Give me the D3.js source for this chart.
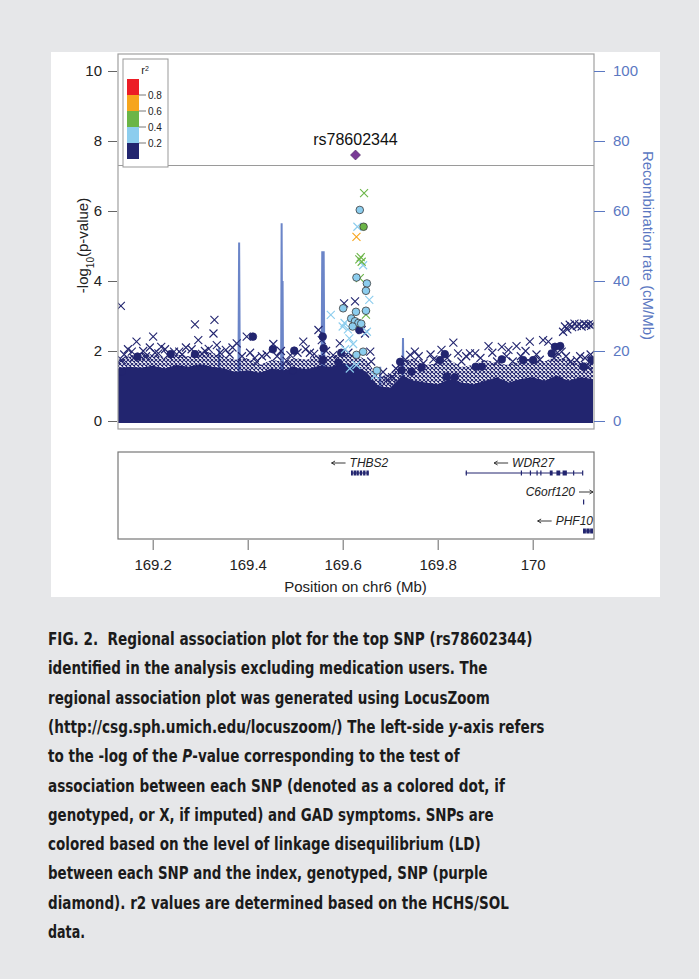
<!DOCTYPE html>
<html lang="en">
<head>
<meta charset="UTF-8">
<title>Regional association plot</title>
<script src="https://d3js.org/d3.v7.min.js"></script>
<style>
  html, body { margin: 0; padding: 0; background: #e6e7e9; }
  svg { display: block; }
  .tick-lbl { font: 15px "Liberation Sans", Arial, sans-serif; fill: #222; }
  .recomb-lbl { font: 15px "Liberation Sans", Arial, sans-serif; fill: #5b78c2; }
  .gene-lbl { font: italic 12px "Liberation Sans", Arial, sans-serif; fill: #222; }
  .caption { font-family: "DejaVu Sans Condensed", "DejaVu Sans", sans-serif; font-weight: bold; font-size: 18px; fill: #1b1b1b; white-space: pre; }
</style>
</head>
<body>
<svg id="fig" width="699" height="979"></svg>
<script>
// ---- data ----
const xTicks = [169.2, 169.4, 169.6, 169.8, 170];
const xTickLabels = ["169.2", "169.4", "169.6", "169.8", "170"];
const yTicks = [0, 2, 4, 6, 8, 10];
const recombTicks = [0, 20, 40, 60, 80, 100];
const sigLine = 7.3;

const ldBreaks = [0.2, 0.4, 0.6, 0.8];
const ldColors = ["#22256f", "#8ccdee", "#6bb547", "#f6a51d", "#ec1d25"];

const topSnp = { name: "rs78602344", pos: 169.627, logp: 7.60 };

// imputed SNPs (drawn as X): [position Mb, -log10 p, r2]
const imputed = [
  [169.133, 3.29, 0.1], [169.135, 1.74, 0.1], [169.156, 1.98, 0.1], [169.166, 2.27, 0.1],
  [169.194, 2.10, 0.1], [169.201, 2.41, 0.1], [169.212, 1.93, 0.1], [169.226, 2.05, 0.1],
  [169.256, 1.98, 0.1], [169.270, 2.10, 0.1], [169.289, 2.76, 0.1], [169.296, 2.31, 0.1],
  [169.310, 2.00, 0.1], [169.328, 2.50, 0.1], [169.330, 2.89, 0.1], [169.335, 2.17, 0.1],
  [169.354, 2.03, 0.1], [169.377, 2.22, 0.1], [169.398, 2.41, 0.1], [169.419, 1.69, 0.1],
  [169.430, 1.85, 0.1], [169.454, 2.20, 0.1], [169.482, 1.72, 0.1], [169.517, 2.27, 0.1],
  [169.531, 1.95, 0.1], [169.549, 2.60, 0.1], [169.556, 2.31, 0.1], [169.594, 2.22, 0.1],
  [169.603, 3.36, 0.1], [169.626, 3.42, 0.1], [169.640, 2.60, 0.1], [169.647, 2.50, 0.1],
  [169.658, 1.98, 0.1], [169.693, 1.17, 0.1], [169.704, 1.25, 0.1], [169.742, 1.89, 0.1],
  [169.752, 1.98, 0.1], [169.791, 1.76, 0.1], [169.808, 2.03, 0.1], [169.833, 2.24, 0.1],
  [169.843, 1.93, 0.1], [169.868, 1.93, 0.1], [169.879, 1.93, 0.1], [169.907, 2.14, 0.1],
  [169.935, 2.12, 0.1], [169.949, 2.03, 0.1], [169.966, 2.14, 0.1], [169.994, 2.27, 0.1],
  [170.022, 2.31, 0.1], [170.033, 2.27, 0.1], [170.061, 1.98, 0.1], [170.093, 1.74, 0.1],
  [170.117, 1.55, 0.1],
  [169.140, 1.90, 0.1], [169.148, 2.05, 0.1], [169.160, 1.80, 0.1], [169.180, 2.00, 0.1],
  [169.186, 1.85, 0.1], [169.205, 1.95, 0.1], [169.218, 2.12, 0.1], [169.232, 1.88, 0.1],
  [169.245, 1.98, 0.1], [169.262, 1.90, 0.1], [169.282, 2.05, 0.1], [169.304, 1.92, 0.1],
  [169.318, 2.06, 0.1], [169.342, 1.95, 0.1], [169.362, 1.90, 0.1], [169.368, 2.10, 0.1],
  [169.388, 1.85, 0.1], [169.405, 1.95, 0.1], [169.415, 1.80, 0.1], [169.440, 1.90, 0.1],
  [169.462, 1.85, 0.1], [169.470, 2.00, 0.1], [169.490, 1.88, 0.1], [169.505, 1.95, 0.1],
  [169.522, 2.05, 0.1], [169.540, 1.92, 0.1], [169.565, 2.00, 0.1], [169.580, 1.88, 0.1],
  [169.612, 1.95, 0.1], [169.660, 1.70, 0.1], [169.685, 1.40, 0.1], [169.712, 1.50, 0.1],
  [169.732, 1.75, 0.1], [169.760, 1.85, 0.1], [169.770, 1.65, 0.1], [169.785, 1.90, 0.1],
  [169.800, 1.70, 0.1], [169.820, 1.80, 0.1], [169.850, 1.70, 0.1], [169.860, 1.85, 0.1],
  [169.890, 1.80, 0.1], [169.915, 1.95, 0.1], [169.925, 1.70, 0.1], [169.945, 1.85, 0.1],
  [169.958, 1.70, 0.1], [169.975, 1.85, 0.1], [169.985, 2.00, 0.1], [170.008, 1.90, 0.1],
  [170.015, 1.75, 0.1], [170.045, 1.80, 0.1], [170.052, 1.95, 0.1], [170.070, 1.85, 0.1],
  [170.080, 1.70, 0.1], [170.100, 1.85, 0.1], [170.110, 1.80, 0.1], [170.122, 1.90, 0.1],
  [170.064, 2.55, 0.1], [170.068, 2.70, 0.1], [170.073, 2.62, 0.1], [170.078, 2.75, 0.1],
  [170.083, 2.68, 0.1], [170.088, 2.78, 0.1], [170.093, 2.72, 0.1], [170.098, 2.76, 0.1],
  [170.103, 2.70, 0.1], [170.108, 2.78, 0.1], [170.113, 2.74, 0.1], [170.118, 2.76, 0.1],
  [170.123, 2.72, 0.1], [170.126, 2.77, 0.1],
  [169.645, 6.51, 0.5], [169.631, 5.55, 0.3], [169.629, 5.26, 0.7], [169.635, 4.62, 0.5],
  [169.640, 4.55, 0.5], [169.638, 4.68, 0.5], [169.643, 4.45, 0.3], [169.636, 4.08, 0.5],
  [169.656, 3.46, 0.3], [169.575, 3.03, 0.3], [169.649, 3.04, 0.5], [169.604, 2.80, 0.3],
  [169.611, 2.62, 0.3], [169.600, 2.70, 0.3], [169.614, 2.36, 0.3], [169.622, 2.20, 0.3],
  [169.605, 2.05, 0.3], [169.629, 1.60, 0.3], [169.615, 1.50, 0.3], [169.668, 1.30, 0.3],
  [169.651, 2.55, 0.3]
];

// genotyped SNPs (drawn as circles): [position Mb, -log10 p, r2]
const genotyped = [
  [169.135, 1.41, 0.1], [169.168, 1.84, 0.1], [169.238, 1.91, 0.1], [169.289, 1.91, 0.1],
  [169.411, 2.41, 0.1], [169.453, 2.05, 0.1], [169.495, 1.44, 0.1], [169.498, 2.01, 0.1],
  [169.558, 2.41, 0.1], [169.560, 2.08, 0.1], [169.558, 1.74, 0.1], [169.591, 1.67, 0.1],
  [169.597, 1.95, 0.1], [169.635, 2.60, 0.1], [169.721, 1.69, 0.1], [169.724, 1.45, 0.1],
  [169.745, 1.41, 0.1], [169.766, 1.53, 0.1], [169.805, 1.74, 0.1], [169.815, 1.91, 0.1],
  [169.819, 1.27, 0.1], [169.836, 1.25, 0.1], [169.880, 1.55, 0.1], [169.893, 1.55, 0.1],
  [169.935, 1.76, 0.1], [169.980, 1.74, 0.1], [170.001, 1.74, 0.1], [170.040, 1.93, 0.1],
  [170.047, 2.12, 0.1], [170.058, 2.14, 0.1], [170.107, 1.55, 0.1], [170.124, 1.74, 0.1],
  [169.636, 6.03, 0.3], [169.644, 5.55, 0.5], [169.629, 4.10, 0.3], [169.651, 3.93, 0.3],
  [169.649, 3.72, 0.3], [169.601, 3.22, 0.3], [169.628, 3.12, 0.3], [169.649, 3.15, 0.3],
  [169.618, 2.93, 0.3], [169.626, 2.85, 0.3], [169.633, 2.80, 0.3], [169.621, 2.70, 0.3],
  [169.639, 2.78, 0.3], [169.629, 1.89, 0.3], [169.643, 1.98, 0.3], [169.672, 1.44, 0.3]
];

// top of the solid mass of low-LD SNPs, and of the looser band of crosses above it
const massEdge = [
  [169.127, 1.50], [169.150, 1.55], [169.175, 1.52], [169.200, 1.58], [169.225, 1.50],
  [169.250, 1.60], [169.275, 1.55], [169.300, 1.62], [169.325, 1.55], [169.350, 1.50],
  [169.375, 1.40], [169.400, 1.45], [169.425, 1.38], [169.450, 1.50], [169.475, 1.45],
  [169.500, 1.52], [169.525, 1.48], [169.550, 1.58], [169.575, 1.55], [169.600, 1.65],
  [169.625, 1.60], [169.650, 1.40], [169.675, 1.00], [169.700, 0.95], [169.725, 1.30],
  [169.750, 1.15], [169.775, 1.10], [169.800, 1.05], [169.825, 1.20], [169.850, 1.10],
  [169.875, 1.05], [169.900, 1.15], [169.925, 1.25], [169.950, 1.10], [169.975, 1.20],
  [170.000, 1.25], [170.025, 1.15], [170.050, 1.30], [170.075, 1.15], [170.100, 1.25],
  [170.127, 1.20]
];
const crossEdge = [
  [169.127, 1.75], [169.150, 1.85], [169.175, 1.95], [169.200, 1.90], [169.225, 1.80],
  [169.250, 1.90], [169.275, 1.85], [169.300, 2.00], [169.325, 1.95], [169.350, 1.85],
  [169.375, 1.75], [169.400, 1.80], [169.425, 1.60], [169.450, 1.75], [169.475, 1.70],
  [169.500, 1.80], [169.525, 1.75], [169.550, 1.90], [169.575, 1.85], [169.600, 1.95],
  [169.625, 1.90], [169.650, 1.75], [169.675, 1.25], [169.700, 1.35], [169.725, 1.70],
  [169.750, 1.80], [169.775, 1.60], [169.800, 1.65], [169.825, 1.75], [169.850, 1.55],
  [169.875, 1.60], [169.900, 1.75], [169.925, 1.65], [169.950, 1.60], [169.975, 1.75],
  [170.000, 1.80], [170.025, 1.70], [170.050, 1.85], [170.075, 1.75], [170.100, 1.70],
  [170.127, 1.65]
];

// recombination rate, cM/Mb
const recomb = [
  [169.127, 0.5], [169.200, 1.0], [169.300, 0.5], [169.338, 0.5], [169.340, 21], [169.342, 0.5],
  [169.380, 0.5], [169.382, 51], [169.384, 0.5], [169.470, 0.5], [169.4715, 56.5], [169.473, 2],
  [169.4735, 40], [169.475, 0.5], [169.555, 0.5], [169.557, 48.5], [169.5585, 10], [169.560, 48.5],
  [169.562, 0.5], [169.677, 0.5], [169.679, 15.5], [169.681, 0.5], [169.725, 0.5], [169.727, 23.7],
  [169.729, 0.5], [169.900, 1.0], [170.127, 2.0]
];

// genes: name, start, end, strand, row, exons
const genes = [
  { name: "THBS2", start: 169.6175, end: 169.655, strand: -1, row: 0,
    exons: [[169.6175, 169.6215], [169.623, 169.628], [169.629, 169.634], [169.636, 169.641], [169.643, 169.648], [169.650, 169.655]] },
  { name: "WDR27", start: 169.859, end: 170.105, strand: -1, row: 0,
    exons: [[169.859, 169.860], [169.975, 169.976], [169.994, 169.995], [170.008, 170.009], [170.016, 170.017],
            [170.036, 170.042], [170.050, 170.058], [170.063, 170.072], [170.085, 170.086], [170.104, 170.105]] },
  { name: "C6orf120", start: 170.106, end: 170.108, strand: 1, row: 1,
    exons: [[170.106, 170.108]] },
  { name: "PHF10", start: 170.106, end: 170.127, strand: -1, row: 2,
    exons: [[170.106, 170.112], [170.113, 170.120], [170.121, 170.127]] }
];

const captionLines = [
  "FIG. 2.  Regional association plot for the top SNP (rs78602344)",
  "identified in the analysis excluding medication users. The",
  "regional association plot was generated using LocusZoom",
  "(http://csg.sph.umich.edu/locuszoom/) The left-side *y*-axis refers",
  "to the -log of the *P*-value corresponding to the test of",
  "association between each SNP (denoted as a colored dot, if",
  "genotyped, or X, if imputed) and GAD symptoms. SNPs are",
  "colored based on the level of linkage disequilibrium (LD)",
  "between each SNP and the index, genotyped, SNP (purple",
  "diamond). r2 values are determined based on the HCHS/SOL",
  "data."
];
const captionFit = [485, 440, 442, 497, 412, 457, 446, 433, 440, 461, 37];

// ---- layout ----
const svg = d3.select("#fig");
const plot = { left: 118, right: 594, top: 54, bottom: 429 };
const genePanel = { top: 452, bottom: 539 };

const x = d3.scaleLinear().domain([169.127, 170.127]).range([118, 593]);
const y = d3.scaleLinear().domain([0, 10]).range([421, 71]);
const yRecomb = d3.scaleLinear().domain([0, 100]).range([421, 71]);
const ldColor = d3.scaleThreshold().domain(ldBreaks).range(ldColors);
const navy = ldColors[0];
const recombColor = "#5b78c2";

// white panel behind the chart
svg.append("rect").attr("x", 51).attr("y", 52).attr("width", 609).attr("height", 545).attr("fill", "#fff");

const defs = svg.append("defs");
defs.append("clipPath").attr("id", "plotClip")
  .append("rect").attr("x", plot.left).attr("y", plot.top)
  .attr("width", plot.right - plot.left).attr("height", plot.bottom - plot.top);
const hatch = defs.append("pattern").attr("id", "xhatch")
  .attr("patternUnits", "userSpaceOnUse").attr("width", 4).attr("height", 4);
hatch.append("path").attr("d", "M0,0L4,4M4,0L0,4")
  .attr("stroke", navy).attr("stroke-width", 1.1).attr("fill", "none");

const g = svg.append("g").attr("clip-path", "url(#plotClip)");

// recombination rate line
g.append("path").datum(recomb)
  .attr("d", d3.line().x(d => x(d[0])).y(d => yRecomb(d[1])))
  .attr("fill", "none").attr("stroke", recombColor).attr("stroke-width", 2).attr("opacity", 0.9);

// the dense bulk of low-LD SNPs
g.append("path").datum(crossEdge)
  .attr("d", d3.area().x(d => x(d[0])).y0(y(-0.06)).y1(d => y(d[1])))
  .attr("fill", "url(#xhatch)");
g.append("path").datum(massEdge)
  .attr("d", d3.area().x(d => x(d[0])).y0(y(-0.06)).y1(d => y(d[1])))
  .attr("fill", navy);

function crossPath(d) {
  const cx = x(d[0]), cy = y(d[1]), s = 4;
  return `M${cx - s},${cy - s}L${cx + s},${cy + s}M${cx - s},${cy + s}L${cx + s},${cy - s}`;
}
const byR2 = (a, b) => a[2] - b[2];

// low-LD individual SNPs first, then the coloured ones on top
[d => d[2] < 0.2, d => d[2] >= 0.2].forEach(keep => {
  g.append("g").selectAll("path")
    .data(imputed.filter(keep).sort(byR2))
    .join("path")
    .attr("d", crossPath)
    .attr("fill", "none")
    .attr("stroke", d => ldColor(d[2]))
    .attr("stroke-width", 1.1);
  g.append("g").selectAll("circle")
    .data(genotyped.filter(keep).sort(byR2))
    .join("circle")
    .attr("cx", d => x(d[0]))
    .attr("cy", d => y(d[1]))
    .attr("r", 3.8)
    .attr("fill", d => ldColor(d[2]))
    .attr("stroke", d => d[2] < 0.2 ? navy : "#3a3a3a")
    .attr("stroke-width", 0.8);
});

// genome-wide significance line
svg.append("line")
  .attr("x1", plot.left).attr("x2", plot.right)
  .attr("y1", y(sigLine)).attr("y2", y(sigLine))
  .attr("stroke", "#9a9a9a").attr("stroke-width", 1);

// index SNP
const tx = x(topSnp.pos), ty = y(topSnp.logp);
svg.append("path")
  .attr("d", `M${tx},${ty - 5}L${tx + 5},${ty}L${tx},${ty + 5}L${tx - 5},${ty}Z`)
  .attr("fill", "#7a3b96").attr("stroke", "#4b2460").attr("stroke-width", 0.6);
svg.append("text")
  .attr("x", tx).attr("y", ty - 10)
  .attr("text-anchor", "middle")
  .style("font", "16px 'Liberation Sans', Arial, sans-serif").attr("fill", "#111")
  .text(topSnp.name);

// plot frame
svg.append("rect")
  .attr("x", plot.left).attr("y", plot.top)
  .attr("width", plot.right - plot.left).attr("height", plot.bottom - plot.top)
  .attr("fill", "none").attr("stroke", "#a0a0a0").attr("stroke-width", 1.2);

// left axis
const yAxisG = svg.append("g").attr("transform", `translate(${plot.left - 1},0)`)
  .call(d3.axisLeft(y).tickValues(yTicks).tickSize(9).tickPadding(6));
yAxisG.select(".domain").remove();
yAxisG.selectAll("line").attr("stroke", "#666");
yAxisG.selectAll("text").attr("class", "tick-lbl").attr("font-family", null).attr("font-size", null);

const yLabel = svg.append("text")
  .attr("transform", `translate(88,${(plot.top + plot.bottom) / 2 + 4}) rotate(-90)`)
  .attr("text-anchor", "middle")
  .style("font", "15px 'Liberation Sans', Arial, sans-serif").attr("fill", "#222");
yLabel.append("tspan").text("-log");
yLabel.append("tspan").attr("baseline-shift", "sub").attr("font-size", 10).text("10");
yLabel.append("tspan").text("(p-value)");

// right axis (recombination rate)
const rAxisG = svg.append("g").attr("transform", `translate(${plot.right},0)`)
  .call(d3.axisRight(yRecomb).tickValues(recombTicks).tickSize(11).tickPadding(8));
rAxisG.select(".domain").remove();
rAxisG.selectAll("line").attr("stroke", recombColor);
rAxisG.selectAll("text").attr("class", "recomb-lbl").attr("font-family", null).attr("font-size", null);

svg.append("text")
  .attr("transform", `translate(643,${(plot.top + plot.bottom) / 2 + 4}) rotate(90)`)
  .attr("text-anchor", "middle")
  .attr("class", "recomb-lbl")
  .text("Recombination rate (cM/Mb)");

// legend
const lg = svg.append("g");
const ly = d3.scaleLinear().domain([0, 1]).range([159, 79]);
lg.append("rect").attr("x", 123).attr("y", 59).attr("width", 45).attr("height", 108)
  .attr("fill", "#fff").attr("stroke", "#999").attr("stroke-width", 1);
const bounds = [0].concat(ldBreaks, [1]);
lg.selectAll("rect.sw").data(ldColors).join("rect").attr("class", "sw")
  .attr("x", 127).attr("width", 12)
  .attr("y", (c, i) => ly(bounds[i + 1]))
  .attr("height", (c, i) => ly(bounds[i]) - ly(bounds[i + 1]))
  .attr("fill", c => c);
lg.selectAll("line").data(ldBreaks).join("line")
  .attr("x1", 139).attr("x2", 146)
  .attr("y1", d => ly(d)).attr("y2", d => ly(d))
  .attr("stroke", "#555").attr("stroke-width", 0.8);
lg.selectAll("text.lv").data(ldBreaks).join("text").attr("class", "lv")
  .attr("x", 148).attr("y", d => ly(d) + 3.5)
  .style("font", "10px 'Liberation Sans', Arial, sans-serif").attr("fill", "#222")
  .text(d => d.toFixed(1));
const lt = lg.append("text").attr("x", 145).attr("y", 74).attr("text-anchor", "middle")
  .style("font", "11px 'Liberation Sans', Arial, sans-serif").attr("fill", "#222");
lt.append("tspan").text("r");
lt.append("tspan").attr("baseline-shift", "super").attr("font-size", 7).text("2");

// gene panel
svg.append("rect")
  .attr("x", plot.left).attr("y", genePanel.top)
  .attr("width", plot.right - plot.left).attr("height", genePanel.bottom - genePanel.top)
  .attr("fill", "none").attr("stroke", "#777").attr("stroke-width", 1.2);

const rowY = d3.scaleLinear().domain([0, 1]).range([473, 502]);
const geneG = svg.append("g");
const arrowLen = 14, arrowGap = 4;
genes.forEach(gn => {
  const gy = rowY(gn.row);
  geneG.append("line")
    .attr("x1", x(gn.start)).attr("x2", x(gn.end))
    .attr("y1", gy).attr("y2", gy)
    .attr("stroke", navy).attr("stroke-width", 1);
  geneG.selectAll(null).data(gn.exons).join("rect")
    .attr("x", d => x(d[0]))
    .attr("width", d => Math.max(1.2, x(d[1]) - x(d[0])))
    .attr("y", gy - 2.5).attr("height", 5)
    .attr("fill", navy);

  // label with a strand arrow, centred on the gene but kept inside the panel
  const t = geneG.append("text").attr("class", "gene-lbl").attr("y", gy - 6).text(gn.name);
  const tw = t.node().getComputedTextLength();
  const total = arrowLen + arrowGap + tw;
  let left = (x(gn.start) + x(gn.end)) / 2 - total / 2;
  left = Math.min(left, plot.right - 1 - total);
  const ay = gy - 10;
  let a0, a1;
  if (gn.strand < 0) {
    a0 = left; a1 = left + arrowLen;
    t.attr("x", left + arrowLen + arrowGap);
    geneG.append("path")
      .attr("d", `M${a1},${ay}L${a0},${ay}M${a0 + 3.5},${ay - 2}L${a0},${ay}L${a0 + 3.5},${ay + 2}`)
      .attr("fill", "none").attr("stroke", "#222").attr("stroke-width", 0.9);
  } else {
    t.attr("x", left);
    a0 = left + tw + arrowGap; a1 = a0 + arrowLen;
    geneG.append("path")
      .attr("d", `M${a0},${ay}L${a1},${ay}M${a1 - 3.5},${ay - 2}L${a1},${ay}L${a1 - 3.5},${ay + 2}`)
      .attr("fill", "none").attr("stroke", "#222").attr("stroke-width", 0.9);
  }
});

// position axis under the gene panel
const xAxisG = svg.append("g").attr("transform", `translate(0,${genePanel.bottom + 1})`)
  .call(d3.axisBottom(x).tickValues(xTicks).tickFormat((d, i) => xTickLabels[i]).tickSize(10).tickPadding(9));
xAxisG.select(".domain").remove();
xAxisG.selectAll("line").attr("stroke", "#666");
xAxisG.selectAll("text").attr("class", "tick-lbl").attr("font-family", null).attr("font-size", null);

svg.append("text")
  .attr("x", x(169.627)).attr("y", 592)
  .attr("text-anchor", "middle")
  .attr("class", "tick-lbl")
  .text("Position on chr6 (Mb)");

// caption, each line squeezed to the width it has in the figure
const cap = svg.append("g");
captionLines.forEach((line, i) => {
  const t = cap.append("text").attr("class", "caption").attr("x", 0).attr("y", 0);
  line.split("*").forEach((part, k) => {
    const s = t.append("tspan").text(part);
    if (k % 2 === 1) s.attr("font-style", "italic");
  });
  const k = captionFit[i] / t.node().getComputedTextLength();
  t.attr("transform", `translate(48,${645 + i * 29.3}) scale(${k},1)`);
});
</script>
</body>
</html>
